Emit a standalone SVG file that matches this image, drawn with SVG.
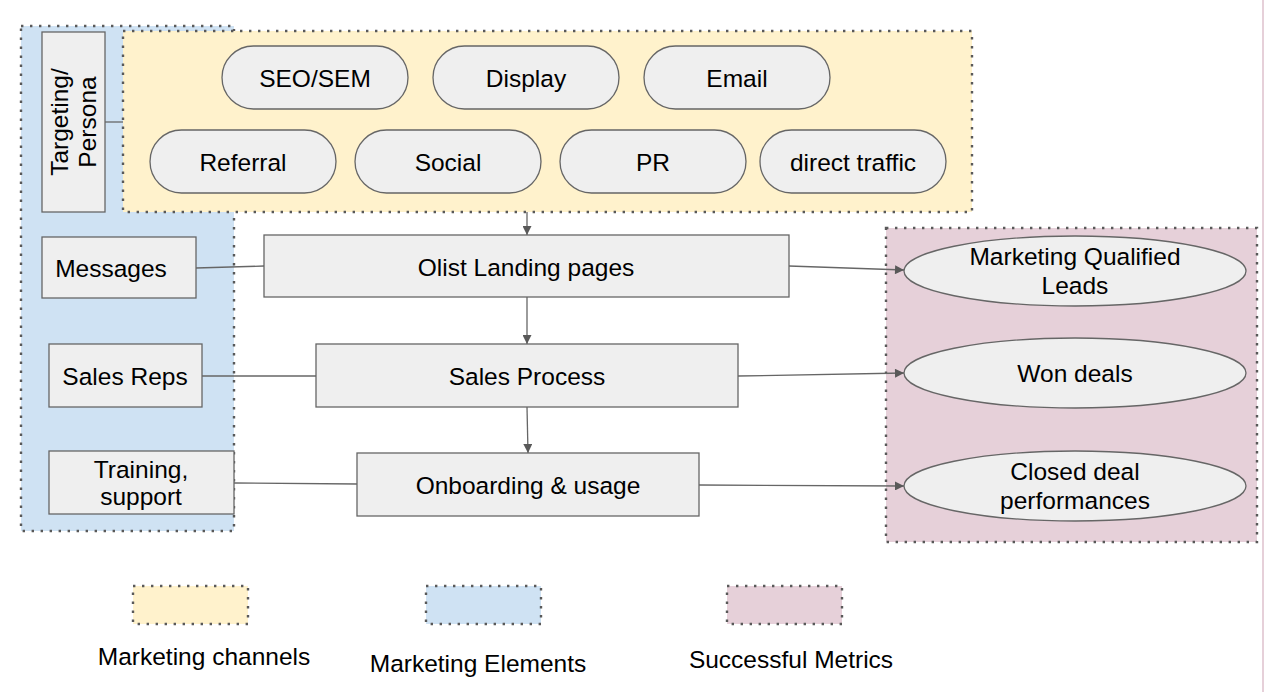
<svg xmlns="http://www.w3.org/2000/svg" width="1266" height="692" viewBox="0 0 1266 692">
<style>
text{font-family:"Liberation Sans",Arial,sans-serif;font-size:24.5px;fill:#000;text-anchor:middle}
.grp{stroke:#595959;stroke-width:2.4;stroke-dasharray:2.4 6.6}
.yel{fill:#fff2cc}.blu{fill:#cfe2f3}.pnk{fill:#e6d0d9}
.node{fill:#efefef;stroke:#666;stroke-width:1.3}
.con{fill:none;stroke:#666;stroke-width:1.3}
</style>
<defs>
<marker id="ah" viewBox="0 0 10 10" refX="10" refY="5" markerWidth="11" markerHeight="9" markerUnits="userSpaceOnUse" orient="auto">
<path d="M0,0 L10,5 L0,10 z" fill="#595959"/>
</marker>
</defs>
<rect x="1262" y="0" width="2" height="692" fill="#e6d0d9"/>
<g id="group-elements"><rect class="blu grp" x="21" y="26" width="213" height="505"/></g>
<g id="group-channels"><rect class="yel grp" x="123" y="31" width="849" height="181"/></g>
<g id="group-metrics"><rect class="pnk grp" x="886" y="228" width="371" height="314"/></g>
<g id="connectors">
<line class="con" x1="105" y1="122" x2="123" y2="122"/>
<line class="con" x1="196" y1="268" x2="264" y2="266"/>
<line class="con" x1="202" y1="376" x2="316" y2="376"/>
<line class="con" x1="234" y1="483" x2="357" y2="484"/>
<line class="con" x1="527" y1="212" x2="527" y2="235" marker-end="url(#ah)"/>
<line class="con" x1="527" y1="297" x2="527" y2="344" marker-end="url(#ah)"/>
<line class="con" x1="527" y1="407" x2="528" y2="453" marker-end="url(#ah)"/>
<line class="con" x1="789" y1="266" x2="904" y2="270" marker-end="url(#ah)"/>
<line class="con" x1="738" y1="376" x2="904" y2="373" marker-end="url(#ah)"/>
<line class="con" x1="699" y1="485" x2="904" y2="486" marker-end="url(#ah)"/>
</g>
<g id="targeting"><rect class="node" x="42" y="32" width="63" height="180"/>
<text transform="translate(73,122) rotate(-90)"><tspan x="0" y="-5">Targeting/</tspan><tspan x="0" y="23">Persona</tspan></text></g>
<g id="seo"><rect class="node" x="222" y="46" width="186" height="63" rx="31.5"/><text x="315" y="87">SEO/SEM</text></g>
<g id="display"><rect class="node" x="433" y="46" width="186" height="63" rx="31.5"/><text x="526" y="87">Display</text></g>
<g id="email"><rect class="node" x="644" y="46" width="186" height="63" rx="31.5"/><text x="737" y="87">Email</text></g>
<g id="referral"><rect class="node" x="150" y="130" width="186" height="63" rx="31.5"/><text x="243" y="171">Referral</text></g>
<g id="social"><rect class="node" x="355" y="130" width="186" height="63" rx="31.5"/><text x="448" y="171">Social</text></g>
<g id="pr"><rect class="node" x="560" y="130" width="186" height="63" rx="31.5"/><text x="653" y="171">PR</text></g>
<g id="direct"><rect class="node" x="760" y="130" width="186" height="63" rx="31.5"/><text x="853" y="171">direct traffic</text></g>
<g id="messages"><rect class="node" x="42" y="237" width="154" height="61"/><text x="111" y="277">Messages</text></g>
<g id="salesreps"><rect class="node" x="49" y="344" width="153" height="63"/><text x="125" y="385">Sales Reps</text></g>
<g id="training"><rect class="node" x="49" y="451" width="185" height="63"/><text x="141"><tspan x="141" y="478">Training,</tspan><tspan x="141" y="505">support</tspan></text></g>
<g id="landing"><rect class="node" x="264" y="235" width="525" height="62"/><text x="526" y="276">Olist Landing pages</text></g>
<g id="sales"><rect class="node" x="316" y="344" width="422" height="63"/><text x="527" y="385">Sales Process</text></g>
<g id="onboarding"><rect class="node" x="357" y="453" width="342" height="63"/><text x="528" y="494">Onboarding &amp; usage</text></g>
<g id="mql"><ellipse class="node" cx="1075" cy="271" rx="171" ry="35"/><text x="1075"><tspan x="1075" y="265">Marketing Qualified</tspan><tspan x="1075" y="294">Leads</tspan></text></g>
<g id="won"><ellipse class="node" cx="1075" cy="373" rx="171" ry="35"/><text x="1075" y="382">Won deals</text></g>
<g id="closed"><ellipse class="node" cx="1075" cy="486" rx="171" ry="35"/><text x="1075"><tspan x="1075" y="480">Closed deal</tspan><tspan x="1075" y="509">performances</tspan></text></g>
<g id="legend">
<rect class="yel grp" x="133" y="586" width="115" height="38"/>
<rect class="blu grp" x="426" y="586" width="115" height="38"/>
<rect class="pnk grp" x="727" y="586" width="115" height="38"/>
<text x="204" y="665">Marketing channels</text>
<text x="478" y="672">Marketing Elements</text>
<text x="791" y="668">Successful Metrics</text>
</g>
</svg>
